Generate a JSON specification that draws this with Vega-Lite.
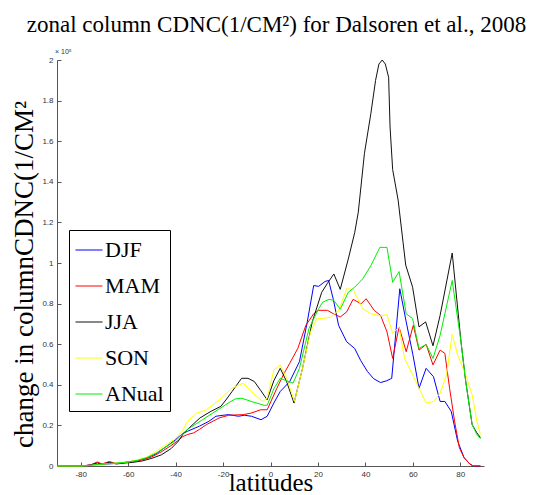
{
  "$schema": "https://vega.github.io/schema/vega-lite/v6.json",
  "width": 427,
  "height": 406,
  "autosize": "none",
  "padding": {"left": 57, "top": 60, "right": 53, "bottom": 29},
  "background": "white",
  "config": {"view": {"stroke": null}},
  "title": {
    "text": "zonal column CDNC(1/CM²) for Dalsoren et al., 2008",
    "font": "Liberation Serif",
    "fontSize": 23,
    "fontWeight": "normal",
    "color": "black",
    "anchor": "middle",
    "baseline": "alphabetic",
    "offset": -7,
    "dx": 6
  },
  "layer": [
    {
      "data": {
        "values": [
          {"lat": -90, "val": 0, "season": "DJF"},
          {"lat": -84, "val": 0, "season": "DJF"},
          {"lat": -78, "val": 0.002, "season": "DJF"},
          {"lat": -75, "val": 0.006, "season": "DJF"},
          {"lat": -72, "val": 0.008, "season": "DJF"},
          {"lat": -69, "val": 0.01, "season": "DJF"},
          {"lat": -66, "val": 0.012, "season": "DJF"},
          {"lat": -63, "val": 0.015, "season": "DJF"},
          {"lat": -60, "val": 0.02, "season": "DJF"},
          {"lat": -56, "val": 0.028, "season": "DJF"},
          {"lat": -52, "val": 0.04, "season": "DJF"},
          {"lat": -48, "val": 0.062, "season": "DJF"},
          {"lat": -44, "val": 0.095, "season": "DJF"},
          {"lat": -40, "val": 0.13, "season": "DJF"},
          {"lat": -37, "val": 0.16, "season": "DJF"},
          {"lat": -35, "val": 0.171, "season": "DJF"},
          {"lat": -30, "val": 0.196, "season": "DJF"},
          {"lat": -26, "val": 0.22, "season": "DJF"},
          {"lat": -23, "val": 0.245, "season": "DJF"},
          {"lat": -20, "val": 0.25, "season": "DJF"},
          {"lat": -17.6, "val": 0.253, "season": "DJF"},
          {"lat": -13.5, "val": 0.245, "season": "DJF"},
          {"lat": -11, "val": 0.25, "season": "DJF"},
          {"lat": -8, "val": 0.245, "season": "DJF"},
          {"lat": -4, "val": 0.228, "season": "DJF"},
          {"lat": -1.4, "val": 0.245, "season": "DJF"},
          {"lat": 1.4, "val": 0.31, "season": "DJF"},
          {"lat": 4.1, "val": 0.367, "season": "DJF"},
          {"lat": 8.1, "val": 0.416, "season": "DJF"},
          {"lat": 12.2, "val": 0.514, "season": "DJF"},
          {"lat": 15.5, "val": 0.71, "season": "DJF"},
          {"lat": 18.2, "val": 0.889, "season": "DJF"},
          {"lat": 20.3, "val": 0.885, "season": "DJF"},
          {"lat": 23, "val": 0.909, "season": "DJF"},
          {"lat": 24.5, "val": 0.914, "season": "DJF"},
          {"lat": 26.5, "val": 0.82, "season": "DJF"},
          {"lat": 28.7, "val": 0.693, "season": "DJF"},
          {"lat": 32.1, "val": 0.612, "season": "DJF"},
          {"lat": 35.5, "val": 0.579, "season": "DJF"},
          {"lat": 38, "val": 0.52, "season": "DJF"},
          {"lat": 40.9, "val": 0.465, "season": "DJF"},
          {"lat": 43.5, "val": 0.43, "season": "DJF"},
          {"lat": 46.4, "val": 0.411, "season": "DJF"},
          {"lat": 49, "val": 0.42, "season": "DJF"},
          {"lat": 51.1, "val": 0.432, "season": "DJF"},
          {"lat": 54.5, "val": 0.873, "season": "DJF"},
          {"lat": 57.2, "val": 0.71, "season": "DJF"},
          {"lat": 60, "val": 0.55, "season": "DJF"},
          {"lat": 62.6, "val": 0.383, "season": "DJF"},
          {"lat": 65.6, "val": 0.481, "season": "DJF"},
          {"lat": 68.7, "val": 0.44, "season": "DJF"},
          {"lat": 71.5, "val": 0.318, "season": "DJF"},
          {"lat": 73.5, "val": 0.318, "season": "DJF"},
          {"lat": 76.2, "val": 0.269, "season": "DJF"},
          {"lat": 78.9, "val": 0.122, "season": "DJF"},
          {"lat": 81.6, "val": 0.041, "season": "DJF"},
          {"lat": 84, "val": 0.01, "season": "DJF"},
          {"lat": 85.5, "val": 0, "season": "DJF"},
          {"lat": 88.5, "val": 0, "season": "DJF"},

          {"lat": -90, "val": 0, "season": "MAM"},
          {"lat": -80, "val": 0, "season": "MAM"},
          {"lat": -76, "val": 0.005, "season": "MAM"},
          {"lat": -73, "val": 0.02, "season": "MAM"},
          {"lat": -71, "val": 0.01, "season": "MAM"},
          {"lat": -68, "val": 0.022, "season": "MAM"},
          {"lat": -65, "val": 0.012, "season": "MAM"},
          {"lat": -62, "val": 0.016, "season": "MAM"},
          {"lat": -58, "val": 0.022, "season": "MAM"},
          {"lat": -54, "val": 0.03, "season": "MAM"},
          {"lat": -50, "val": 0.045, "season": "MAM"},
          {"lat": -46, "val": 0.07, "season": "MAM"},
          {"lat": -42, "val": 0.1, "season": "MAM"},
          {"lat": -39, "val": 0.125, "season": "MAM"},
          {"lat": -37, "val": 0.145, "season": "MAM"},
          {"lat": -35, "val": 0.155, "season": "MAM"},
          {"lat": -32.4, "val": 0.163, "season": "MAM"},
          {"lat": -30, "val": 0.18, "season": "MAM"},
          {"lat": -27, "val": 0.204, "season": "MAM"},
          {"lat": -21.6, "val": 0.237, "season": "MAM"},
          {"lat": -17.6, "val": 0.25, "season": "MAM"},
          {"lat": -11.5, "val": 0.253, "season": "MAM"},
          {"lat": -8.1, "val": 0.261, "season": "MAM"},
          {"lat": -4.1, "val": 0.277, "season": "MAM"},
          {"lat": -1.4, "val": 0.277, "season": "MAM"},
          {"lat": 2.7, "val": 0.383, "season": "MAM"},
          {"lat": 5.4, "val": 0.449, "season": "MAM"},
          {"lat": 8.1, "val": 0.506, "season": "MAM"},
          {"lat": 11.5, "val": 0.579, "season": "MAM"},
          {"lat": 14.9, "val": 0.693, "season": "MAM"},
          {"lat": 18.2, "val": 0.75, "season": "MAM"},
          {"lat": 20.3, "val": 0.767, "season": "MAM"},
          {"lat": 24, "val": 0.767, "season": "MAM"},
          {"lat": 26.5, "val": 0.75, "season": "MAM"},
          {"lat": 29.4, "val": 0.734, "season": "MAM"},
          {"lat": 32.1, "val": 0.759, "season": "MAM"},
          {"lat": 34.8, "val": 0.821, "season": "MAM"},
          {"lat": 38.2, "val": 0.799, "season": "MAM"},
          {"lat": 40.3, "val": 0.824, "season": "MAM"},
          {"lat": 43.7, "val": 0.767, "season": "MAM"},
          {"lat": 46.4, "val": 0.742, "season": "MAM"},
          {"lat": 49.1, "val": 0.661, "season": "MAM"},
          {"lat": 51.5, "val": 0.53, "season": "MAM"},
          {"lat": 54.2, "val": 0.685, "season": "MAM"},
          {"lat": 57.2, "val": 0.563, "season": "MAM"},
          {"lat": 60.2, "val": 0.693, "season": "MAM"},
          {"lat": 62.6, "val": 0.571, "season": "MAM"},
          {"lat": 65.6, "val": 0.599, "season": "MAM"},
          {"lat": 68.5, "val": 0.498, "season": "MAM"},
          {"lat": 71.5, "val": 0.571, "season": "MAM"},
          {"lat": 73.5, "val": 0.555, "season": "MAM"},
          {"lat": 75.5, "val": 0.383, "season": "MAM"},
          {"lat": 77.6, "val": 0.22, "season": "MAM"},
          {"lat": 79.6, "val": 0.09, "season": "MAM"},
          {"lat": 81.6, "val": 0.041, "season": "MAM"},
          {"lat": 84, "val": 0.01, "season": "MAM"},
          {"lat": 85.5, "val": 0, "season": "MAM"},
          {"lat": 88.5, "val": 0, "season": "MAM"},

          {"lat": -90, "val": 0, "season": "JJA"},
          {"lat": -80, "val": 0, "season": "JJA"},
          {"lat": -76, "val": 0.004, "season": "JJA"},
          {"lat": -73, "val": 0.015, "season": "JJA"},
          {"lat": -71, "val": 0.008, "season": "JJA"},
          {"lat": -68, "val": 0.018, "season": "JJA"},
          {"lat": -65, "val": 0.01, "season": "JJA"},
          {"lat": -62, "val": 0.014, "season": "JJA"},
          {"lat": -58, "val": 0.018, "season": "JJA"},
          {"lat": -54, "val": 0.025, "season": "JJA"},
          {"lat": -50, "val": 0.038, "season": "JJA"},
          {"lat": -46, "val": 0.055, "season": "JJA"},
          {"lat": -42, "val": 0.085, "season": "JJA"},
          {"lat": -39, "val": 0.12, "season": "JJA"},
          {"lat": -37, "val": 0.155, "season": "JJA"},
          {"lat": -35, "val": 0.18, "season": "JJA"},
          {"lat": -29.7, "val": 0.237, "season": "JJA"},
          {"lat": -25, "val": 0.27, "season": "JJA"},
          {"lat": -20.9, "val": 0.294, "season": "JJA"},
          {"lat": -18.5, "val": 0.33, "season": "JJA"},
          {"lat": -16.2, "val": 0.367, "season": "JJA"},
          {"lat": -12.2, "val": 0.432, "season": "JJA"},
          {"lat": -9.5, "val": 0.432, "season": "JJA"},
          {"lat": -6.8, "val": 0.416, "season": "JJA"},
          {"lat": -4, "val": 0.37, "season": "JJA"},
          {"lat": -1.4, "val": 0.326, "season": "JJA"},
          {"lat": 1.4, "val": 0.42, "season": "JJA"},
          {"lat": 4.1, "val": 0.481, "season": "JJA"},
          {"lat": 6.8, "val": 0.416, "season": "JJA"},
          {"lat": 9.9, "val": 0.31, "season": "JJA"},
          {"lat": 13.5, "val": 0.481, "season": "JJA"},
          {"lat": 17.6, "val": 0.71, "season": "JJA"},
          {"lat": 21.6, "val": 0.856, "season": "JJA"},
          {"lat": 24, "val": 0.9, "season": "JJA"},
          {"lat": 26.7, "val": 0.946, "season": "JJA"},
          {"lat": 29.4, "val": 0.87, "season": "JJA"},
          {"lat": 32.8, "val": 1.02, "season": "JJA"},
          {"lat": 35.5, "val": 1.15, "season": "JJA"},
          {"lat": 37, "val": 1.25, "season": "JJA"},
          {"lat": 39.6, "val": 1.54, "season": "JJA"},
          {"lat": 42.3, "val": 1.736, "season": "JJA"},
          {"lat": 44.3, "val": 1.9, "season": "JJA"},
          {"lat": 45.7, "val": 1.98, "season": "JJA"},
          {"lat": 47.1, "val": 2.0, "season": "JJA"},
          {"lat": 48.4, "val": 1.98, "season": "JJA"},
          {"lat": 49.8, "val": 1.915, "season": "JJA"},
          {"lat": 50.4, "val": 1.67, "season": "JJA"},
          {"lat": 51.5, "val": 1.46, "season": "JJA"},
          {"lat": 53.8, "val": 1.31, "season": "JJA"},
          {"lat": 55.9, "val": 1.1, "season": "JJA"},
          {"lat": 57, "val": 0.99, "season": "JJA"},
          {"lat": 59.9, "val": 0.881, "season": "JJA"},
          {"lat": 62.6, "val": 0.685, "season": "JJA"},
          {"lat": 65.4, "val": 0.71, "season": "JJA"},
          {"lat": 68.5, "val": 0.592, "season": "JJA"},
          {"lat": 71.5, "val": 0.742, "season": "JJA"},
          {"lat": 76.6, "val": 1.049, "season": "JJA"},
          {"lat": 80.3, "val": 0.612, "season": "JJA"},
          {"lat": 82.3, "val": 0.416, "season": "JJA"},
          {"lat": 85, "val": 0.204, "season": "JJA"},
          {"lat": 87, "val": 0.163, "season": "JJA"},
          {"lat": 88.5, "val": 0.14, "season": "JJA"},

          {"lat": -90, "val": 0, "season": "SON"},
          {"lat": -80, "val": 0, "season": "SON"},
          {"lat": -76, "val": 0.003, "season": "SON"},
          {"lat": -72, "val": 0.008, "season": "SON"},
          {"lat": -68, "val": 0.012, "season": "SON"},
          {"lat": -64, "val": 0.015, "season": "SON"},
          {"lat": -60, "val": 0.02, "season": "SON"},
          {"lat": -56, "val": 0.03, "season": "SON"},
          {"lat": -52, "val": 0.045, "season": "SON"},
          {"lat": -48, "val": 0.075, "season": "SON"},
          {"lat": -44, "val": 0.105, "season": "SON"},
          {"lat": -40, "val": 0.135, "season": "SON"},
          {"lat": -37, "val": 0.175, "season": "SON"},
          {"lat": -35, "val": 0.22, "season": "SON"},
          {"lat": -31.1, "val": 0.261, "season": "SON"},
          {"lat": -27, "val": 0.277, "season": "SON"},
          {"lat": -21.6, "val": 0.326, "season": "SON"},
          {"lat": -16.2, "val": 0.383, "season": "SON"},
          {"lat": -11.5, "val": 0.408, "season": "SON"},
          {"lat": -8.1, "val": 0.367, "season": "SON"},
          {"lat": -3.4, "val": 0.318, "season": "SON"},
          {"lat": -1.4, "val": 0.334, "season": "SON"},
          {"lat": 1.4, "val": 0.473, "season": "SON"},
          {"lat": 4.1, "val": 0.498, "season": "SON"},
          {"lat": 6.8, "val": 0.432, "season": "SON"},
          {"lat": 10.1, "val": 0.318, "season": "SON"},
          {"lat": 13.5, "val": 0.481, "season": "SON"},
          {"lat": 16.9, "val": 0.661, "season": "SON"},
          {"lat": 19.6, "val": 0.726, "season": "SON"},
          {"lat": 22, "val": 0.726, "season": "SON"},
          {"lat": 25.4, "val": 0.734, "season": "SON"},
          {"lat": 28.8, "val": 0.767, "season": "SON"},
          {"lat": 32.1, "val": 0.873, "season": "SON"},
          {"lat": 34.8, "val": 0.87, "season": "SON"},
          {"lat": 38.9, "val": 0.775, "season": "SON"},
          {"lat": 42.3, "val": 0.75, "season": "SON"},
          {"lat": 46.4, "val": 0.739, "season": "SON"},
          {"lat": 49.1, "val": 0.746, "season": "SON"},
          {"lat": 51.5, "val": 0.653, "season": "SON"},
          {"lat": 54.2, "val": 0.685, "season": "SON"},
          {"lat": 56.5, "val": 0.53, "season": "SON"},
          {"lat": 59.9, "val": 0.449, "season": "SON"},
          {"lat": 62.6, "val": 0.383, "season": "SON"},
          {"lat": 65.6, "val": 0.31, "season": "SON"},
          {"lat": 68.7, "val": 0.318, "season": "SON"},
          {"lat": 71.5, "val": 0.359, "season": "SON"},
          {"lat": 74.2, "val": 0.449, "season": "SON"},
          {"lat": 76.6, "val": 0.648, "season": "SON"},
          {"lat": 78.9, "val": 0.546, "season": "SON"},
          {"lat": 82.3, "val": 0.449, "season": "SON"},
          {"lat": 85, "val": 0.351, "season": "SON"},
          {"lat": 87, "val": 0.22, "season": "SON"},
          {"lat": 88.5, "val": 0.155, "season": "SON"},

          {"lat": -90, "val": 0, "season": "ANual"},
          {"lat": -80, "val": 0, "season": "ANual"},
          {"lat": -76, "val": 0.003, "season": "ANual"},
          {"lat": -72, "val": 0.008, "season": "ANual"},
          {"lat": -68, "val": 0.012, "season": "ANual"},
          {"lat": -64, "val": 0.015, "season": "ANual"},
          {"lat": -60, "val": 0.02, "season": "ANual"},
          {"lat": -56, "val": 0.028, "season": "ANual"},
          {"lat": -52, "val": 0.042, "season": "ANual"},
          {"lat": -48, "val": 0.065, "season": "ANual"},
          {"lat": -44, "val": 0.095, "season": "ANual"},
          {"lat": -40, "val": 0.125, "season": "ANual"},
          {"lat": -37, "val": 0.16, "season": "ANual"},
          {"lat": -35, "val": 0.18, "season": "ANual"},
          {"lat": -29.7, "val": 0.22, "season": "ANual"},
          {"lat": -24.3, "val": 0.261, "season": "ANual"},
          {"lat": -18.9, "val": 0.302, "season": "ANual"},
          {"lat": -15, "val": 0.33, "season": "ANual"},
          {"lat": -12.2, "val": 0.334, "season": "ANual"},
          {"lat": -8.1, "val": 0.318, "season": "ANual"},
          {"lat": -2.7, "val": 0.299, "season": "ANual"},
          {"lat": -1.4, "val": 0.299, "season": "ANual"},
          {"lat": 1.4, "val": 0.38, "season": "ANual"},
          {"lat": 4.1, "val": 0.432, "season": "ANual"},
          {"lat": 6.8, "val": 0.42, "season": "ANual"},
          {"lat": 9.5, "val": 0.408, "season": "ANual"},
          {"lat": 12.2, "val": 0.481, "season": "ANual"},
          {"lat": 16.2, "val": 0.677, "season": "ANual"},
          {"lat": 20.3, "val": 0.775, "season": "ANual"},
          {"lat": 22, "val": 0.807, "season": "ANual"},
          {"lat": 24.7, "val": 0.821, "season": "ANual"},
          {"lat": 26.7, "val": 0.816, "season": "ANual"},
          {"lat": 29.4, "val": 0.772, "season": "ANual"},
          {"lat": 32.8, "val": 0.856, "season": "ANual"},
          {"lat": 35.5, "val": 0.881, "season": "ANual"},
          {"lat": 38.9, "val": 0.922, "season": "ANual"},
          {"lat": 42.3, "val": 0.987, "season": "ANual"},
          {"lat": 46.1, "val": 1.077, "season": "ANual"},
          {"lat": 49.1, "val": 1.077, "season": "ANual"},
          {"lat": 51.5, "val": 0.905, "season": "ANual"},
          {"lat": 54.2, "val": 0.958, "season": "ANual"},
          {"lat": 57.2, "val": 0.75, "season": "ANual"},
          {"lat": 59.9, "val": 0.726, "season": "ANual"},
          {"lat": 62.6, "val": 0.579, "season": "ANual"},
          {"lat": 65.6, "val": 0.599, "season": "ANual"},
          {"lat": 68.5, "val": 0.53, "season": "ANual"},
          {"lat": 71.5, "val": 0.644, "season": "ANual"},
          {"lat": 76.6, "val": 0.914, "season": "ANual"},
          {"lat": 80.3, "val": 0.612, "season": "ANual"},
          {"lat": 82.3, "val": 0.416, "season": "ANual"},
          {"lat": 85, "val": 0.204, "season": "ANual"},
          {"lat": 87, "val": 0.155, "season": "ANual"},
          {"lat": 88.5, "val": 0.135, "season": "ANual"}
        ]
      },
      "mark": {"type": "line", "strokeWidth": 1},
      "encoding": {
        "x": {
          "field": "lat",
          "type": "quantitative",
          "scale": {"domain": [-90, 90], "nice": false, "zero": false},
          "axis": {
            "values": [-80, -60, -40, -20, 0, 20, 40, 60, 80],
            "labelExpr": "'' + datum.value",
            "title": "latitudes",
            "titleFont": "Liberation Serif",
            "titleFontSize": 25,
            "titleFontWeight": "normal",
            "titleColor": "black",
            "titleY": 24,
            "titleBaseline": "alphabetic",
            "labelFont": "Liberation Sans",
            "labelFontSize": 8,
            "labelColor": "#333333",
            "domainColor": "#555555",
            "tickColor": "#555555",
            "tickSize": -4,
            "labelPadding": 8,
            "grid": false
          }
        },
        "y": {
          "field": "val",
          "type": "quantitative",
          "scale": {"domain": [0, 2], "nice": false},
          "axis": {
            "values": [0, 0.2, 0.4, 0.6, 0.8, 1, 1.2, 1.4, 1.6, 1.8, 2],
            "labelExpr": "'' + datum.value",
            "title": "change in columnCDNC(1/CM²",
            "titleFont": "Liberation Serif",
            "titleFontSize": 27,
            "titleFontWeight": "normal",
            "titleColor": "black",
            "titleX": -25,
            "titleY": 214,
            "titleBaseline": "alphabetic",
            "labelFont": "Liberation Sans",
            "labelFontSize": 8,
            "labelColor": "#333333",
            "domainColor": "#555555",
            "tickColor": "#555555",
            "tickSize": -4,
            "labelPadding": 8,
            "grid": false
          }
        },
        "color": {
          "field": "season",
          "type": "nominal",
          "scale": {
            "domain": ["DJF", "MAM", "JJA", "SON", "ANual"],
            "range": ["#0000ff", "#ff0000", "#111111", "#ffff00", "#00ee00"]
          },
          "legend": {
            "orient": "none",
            "legendX": 12,
            "legendY": 170,
            "title": null,
            "symbolType": "stroke",
            "symbolSize": 729,
            "symbolStrokeWidth": 1,
            "labelFont": "Liberation Serif",
            "labelFontSize": 22,
            "labelColor": "black",
            "labelOffset": 2,
            "strokeColor": "black",
            "fillColor": "white",
            "padding": 6,
            "rowPadding": 11
          }
        }
      }
    },
    {
      "data": {"values": [{"lat": -90, "val": 2, "label": "× 10⁵"}]},
      "mark": {"type": "text", "align": "left", "baseline": "alphabetic", "dx": -2, "dy": -6, "font": "Liberation Sans", "fontSize": 7, "color": "#333333"},
      "encoding": {
        "x": {"field": "lat", "type": "quantitative"},
        "y": {"field": "val", "type": "quantitative"},
        "text": {"field": "label"}
      }
    }
  ]
}
